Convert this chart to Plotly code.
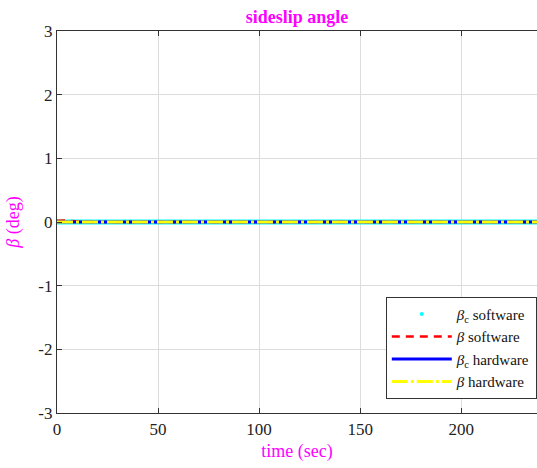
import plotly.graph_objects as go

# time (sec)
time_sw = [0, 2, 4, 6, 8, 10, 12, 15, 20, 30, 50, 100, 150, 200, 238]
beta_c_software = [0, 0, 0, 0, 0, 0, 0, 0, 0, 0, 0, 0, 0, 0, 0]
beta_software = [0.02, 0.025, 0.022, 0.018, 0.012, 0.008, 0.004, 0.002, 0.0, 0.0, 0.0, 0.0, 0.0, 0.0, 0.0]
time_hw = [0, 50, 100, 150, 200, 238]
beta_c_hardware = [0, 0, 0, 0, 0, 0]
beta_hardware = [0, 0, 0, 0, 0, 0]

x_ticks = [0, 50, 100, 150, 200]
y_ticks = [-3, -2, -1, 0, 1, 2, 3]
y_tick_labels = ["-3", "-2", "-1", "0", "1", "2", "3"]

MAG = "#ff00ff"
FONT = "Liberation Serif"

fig = go.Figure()

# cyan dense dotted series drawn as a thick band
fig.add_trace(go.Scatter(x=time_sw, y=beta_c_software, mode="lines",
                         line=dict(color="#00ffff", width=5),
                         showlegend=False, legendgroup="a", hoverinfo="skip"))
fig.add_trace(go.Scatter(x=[None], y=[None], mode="markers",
                         marker=dict(color="#00ffff", size=4),
                         name="<i>β</i><sub>c</sub> software", legendgroup="a"))
fig.add_trace(go.Scatter(x=time_sw, y=beta_software, mode="lines",
                         line=dict(color="#ff0000", width=2.5, dash="8px,6px"),
                         name="<i>β</i> software"))
fig.add_trace(go.Scatter(x=time_hw, y=beta_c_hardware, mode="lines",
                         line=dict(color="#0000ff", width=3),
                         name="<i>β</i><sub>c</sub> hardware"))
fig.add_trace(go.Scatter(x=time_hw, y=beta_hardware, mode="lines",
                         line=dict(color="#ffff00", width=3, dash="16px,3px,3px,3px"),
                         name="<i>β</i> hardware"))

axis_common = dict(showgrid=True, gridcolor="#dcdcdc", gridwidth=1,
                   showline=True, linecolor="#333333", linewidth=1.2,
                   ticks="inside", ticklen=5, tickcolor="#333333",
                   zeroline=False, automargin=False,
                   tickfont=dict(family=FONT, size=17, color="#222222"))

fig.update_layout(
    width=537, height=468,
    margin=dict(l=57, r=0, t=31, b=55),
    paper_bgcolor="white", plot_bgcolor="white",
    title=dict(text="<b>sideslip angle</b>", x=0.5, xref="paper", xanchor="center",
               y=1 - 17 / 468, yanchor="middle",
               font=dict(family=FONT, size=18, color=MAG)),
    xaxis=dict(range=[0, 237.5], tickvals=x_ticks, mirror="ticks",
               title=dict(text="time (sec)", font=dict(family=FONT, size=18, color=MAG), standoff=6),
               **axis_common),
    yaxis=dict(range=[-3, 3], tickvals=y_ticks, ticktext=y_tick_labels, mirror=False,
               title=dict(text="<i>β</i> (deg)", font=dict(family=FONT, size=18, color=MAG), standoff=14),
               **axis_common),
    legend=dict(x=0.685, y=0.304, xanchor="left", yanchor="top",
                bgcolor="white", bordercolor="#333333", borderwidth=1,
                font=dict(family=FONT, size=15, color="#111111"),
                tracegroupgap=0, itemwidth=60),
    showlegend=True,
)

# remove the default page margin so the figure fills the window exactly
fig.write_html("out.html", config={"displayModeBar": False},
               post_script="document.body.style.margin='0';document.body.style.overflow='hidden';")
